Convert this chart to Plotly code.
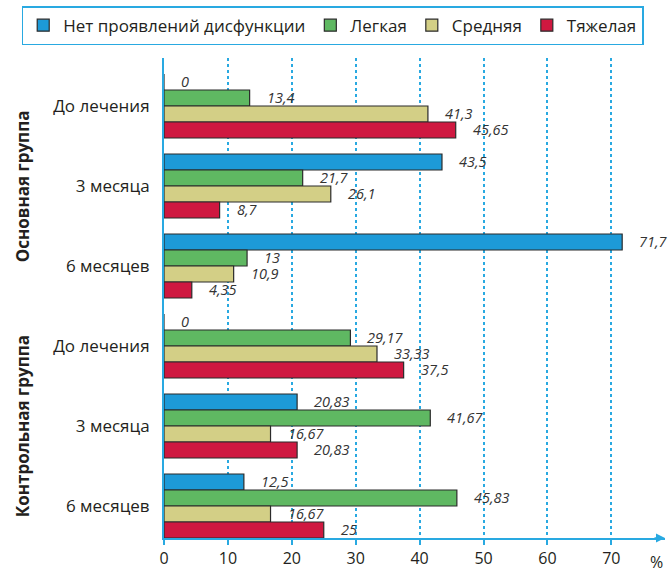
import plotly.graph_objects as go

# ---- data ----
categories = ["До лечения", "3 месяца", "6 месяцев", "До лечения", "3 месяца", "6 месяцев"]
groups = ["Основная группа", "Контрольная группа"]
series_names = ["Нет проявлений дисфункции", "Легкая", "Средняя", "Тяжелая"]
none_vals = [0, 43.5, 71.7, 0, 20.83, 12.5]
light_vals = [13.4, 21.7, 13, 29.17, 41.67, 45.83]
medium_vals = [41.3, 26.1, 10.9, 33.33, 16.67, 16.67]
severe_vals = [45.65, 8.7, 4.35, 37.5, 20.83, 25]
x_ticks = [0, 10, 20, 30, 40, 50, 60, 70]

colors = ["#1d9ad8", "#5fb862", "#d3cf86", "#cf1840"]
series_vals = [none_vals, light_vals, medium_vals, severe_vals]

FONT = "Open Sans"
BLUE = "#29a9e1"
TXT = "#231f20"

pos = list(range(len(categories)))
n_series = len(series_vals)
bargap = 0.2
bar_w = (1 - bargap) / n_series

fig = go.Figure()
for name, vals, col in zip(series_names, series_vals, colors):
    fig.add_trace(go.Bar(
        name=name, y=pos, x=vals, orientation="h",
        marker=dict(color=col, line=dict(color="#2b2b2b", width=1.2)),
    ))

# value labels
annotations = []
for i, vals in enumerate(series_vals):
    for c, v in zip(pos, vals):
        yy = c + (i - (n_series - 1) / 2) * bar_w
        annotations.append(dict(
            x=v, y=yy, xref="x", yref="y", text=f"{v:g}".replace(".", ","),
            showarrow=False, xanchor="left", yanchor="middle", xshift=15, yshift=1,
            font=dict(family=FONT, size=14.5, color="#333333", style="italic"),
        ))

# group labels
for gi, g in enumerate(groups):
    annotations.append(dict(
        x=-0.283, y=gi * 3 + 1, xref="paper", yref="y", text=g,
        showarrow=False, textangle=-90, xanchor="center", yanchor="middle",
        font=dict(family=FONT, size=17, color=TXT, weight="bold"),
    ))

# % label and arrow
annotations.append(dict(x=1, y=0, xref="paper", yref="paper", text="%",
                        showarrow=False, xanchor="right", yanchor="top",
                        xshift=0, yshift=-11,
                        font=dict(family=FONT, size=16, color=TXT)))
annotations.append(dict(x=1, y=0, xref="paper", yref="paper", ax=-12, ay=0,
                        axref="pixel", ayref="pixel", showarrow=True,
                        arrowhead=2, arrowsize=1.2, arrowwidth=1.5,
                        arrowcolor=BLUE, text=""))

fig.update_layout(
    width=670, height=572,
    margin=dict(l=164, r=5, t=58, b=34, autoexpand=False),
    paper_bgcolor="white", plot_bgcolor="white",
    barmode="group", bargap=bargap, bargroupgap=0,
    font=dict(family=FONT, color=TXT),
    showlegend=True,
    legend=dict(
        orientation="h",
        x=-0.284, y=1.108, xanchor="left", yanchor="top",
        bordercolor=BLUE, borderwidth=1.5, bgcolor="white",
        font=dict(family=FONT, size=17, color=TXT),
        traceorder="normal",
    ),
    annotations=annotations,
)
fig.update_xaxes(
    range=[0, 78.4], tickvals=x_ticks, ticktext=[str(t) for t in x_ticks],
    showgrid=True, gridcolor=BLUE, griddash="dot", gridwidth=1.5,
    showline=True, linecolor=BLUE, linewidth=2,
    ticks="outside", ticklen=5, tickcolor=BLUE, tickwidth=2,
    tickfont=dict(family=FONT, size=16, color=TXT),
    zeroline=False,
)
fig.update_yaxes(
    range=[len(categories) - 0.6, -0.6], tickvals=pos, ticktext=categories,
    showgrid=False, showline=True, linecolor=BLUE, linewidth=2,
    ticks="", ticklabelstandoff=9,
    tickfont=dict(family=FONT, size=17, color=TXT),
    zeroline=False,
)

fig.write_html(
    "out.html",
    config={"displayModeBar": False},
    post_script="document.body.style.margin='0';document.body.style.overflow='hidden';",
)
